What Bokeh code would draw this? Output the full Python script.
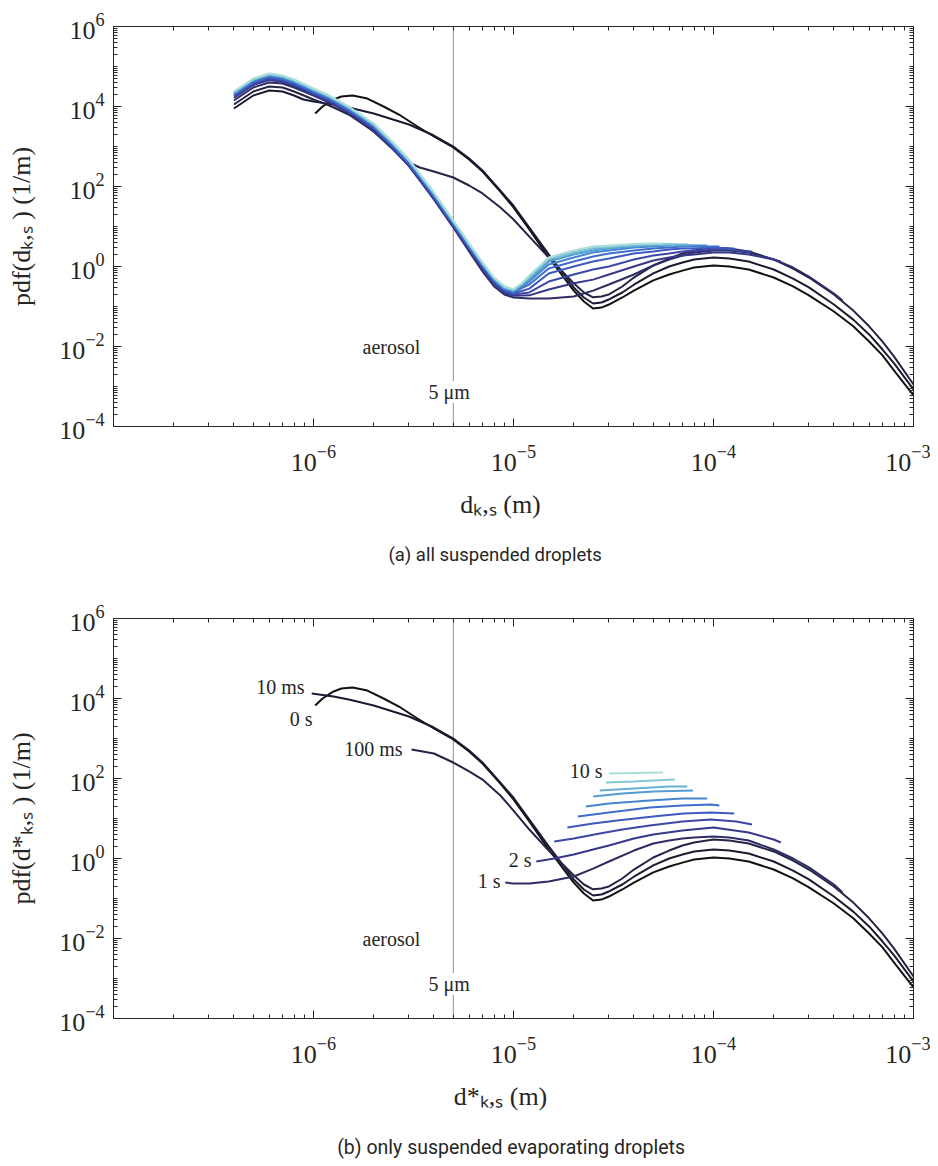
import math
from bokeh.plotting import figure
from bokeh.models import LogAxis, FixedTicker, Label, Span, Range1d, CustomJSTickFormatter, Title
from bokeh.layouts import column
from bokeh.embed import file_html
from bokeh.resources import INLINE

# ---------------- data ----------------
times = ["0 s", "10 ms", "100 ms", "1 s", "2 s", "3 s", "4 s", "5 s", "6 s", "7 s", "8 s", "9 s", "10 s"]
x_tick_values = [1e-6, 1e-5, 1e-4, 1e-3]
y_tick_values = [1e-4, 1e-2, 1e0, 1e2, 1e4, 1e6]
aerosol_limit_um = 5.0

# diameters in micrometres, pdf in 1/m
# ----- panel (a): all suspended droplets -----
a_d_0s = [1.02, 1.11, 1.26, 1.38, 1.57, 1.86, 2.24, 2.72, 3.31, 4, 5, 6, 7, 8.6, 10, 12, 15, 20, 22.5, 25, 27.5, 30, 35, 40, 50, 60, 70, 80, 100, 120, 150, 200, 250, 300, 400, 500, 600, 700, 800, 1000]
a_pdf_0s = [6.7e3, 1.0e4, 1.5e4, 1.78e4, 1.88e4, 1.58e4, 1.0e4, 5.96e3, 3.16e3, 1.78e3, 944, 473, 237, 75, 30, 8.4, 1.68, 0.25, 0.133, 0.089, 0.094, 0.112, 0.168, 0.25, 0.45, 0.63, 0.79, 0.94, 1.06, 1.0, 0.84, 0.53, 0.32, 0.19, 0.075, 0.032, 0.0133, 0.0060, 0.0025, 6.0e-4]

a_d_10ms = [0.4, 0.5, 0.6, 0.7, 0.8, 0.89, 1.0, 1.26, 1.5, 2, 3, 4, 5, 6, 7, 8.6, 10, 12, 15, 20, 22.5, 25, 27.5, 30, 35, 40, 50, 60, 70, 80, 100, 120, 150, 200, 250, 300, 400, 500, 600, 700, 800, 1000]
a_pdf_10ms = [8.9e3, 1.88e4, 2.51e4, 2.37e4, 1.88e4, 1.5e4, 1.33e4, 1.12e4, 9.4e3, 6.7e3, 3.55e3, 1.88e3, 1.0e3, 501, 251, 79, 33, 9.4, 2.0, 0.30, 0.168, 0.119, 0.126, 0.15, 0.224, 0.35, 0.67, 1.0, 1.26, 1.5, 1.68, 1.58, 1.33, 0.84, 0.50, 0.30, 0.112, 0.047, 0.020, 0.0084, 0.0038, 8.4e-4]

a_d_100ms = [0.4, 0.5, 0.6, 0.7, 0.8, 1.0, 1.2, 1.5, 2, 2.5, 3, 3.4, 4, 5, 6, 7, 8.6, 10, 12, 15, 20, 22.5, 25, 27.5, 30, 35, 40, 50, 60, 70, 80, 100, 120, 150, 200, 250, 300, 400, 500, 600, 700, 800, 1000]
a_pdf_100ms = [1.12e4, 2.37e4, 3.16e4, 2.99e4, 2.37e4, 1.5e4, 1.06e4, 6.3e3, 2.37e3, 891, 398, 299, 237, 168, 106, 67, 30, 15, 5.6, 1.68, 0.38, 0.224, 0.17, 0.178, 0.20, 0.316, 0.53, 1.06, 1.58, 2.11, 2.51, 2.99, 2.82, 2.37, 1.5, 0.89, 0.53, 0.20, 0.079, 0.032, 0.0133, 0.0056, 0.00112]

a_d_1s = [0.4, 0.5, 0.6, 0.7, 0.8, 1.0, 1.2, 1.5, 2, 2.5, 3, 4, 5, 6, 7, 8, 9, 10, 12, 15, 20, 25, 30, 40, 50, 60, 70, 80, 100, 120, 150, 200, 250, 300, 400, 442]
a_pdf_1s = [1.41e4, 2.99e4, 3.98e4, 3.76e4, 2.99e4, 1.88e4, 1.26e4, 7.08e3, 2.37e3, 841, 335, 47.3, 9.44, 2.37, 0.75, 0.316, 0.20, 0.168, 0.158, 0.158, 0.178, 0.25, 0.355, 0.63, 1.06, 1.5, 1.88, 2.24, 2.51, 2.51, 2.24, 1.5, 0.944, 0.56, 0.21, 0.141]

a_d_2s = [0.4, 0.5, 0.6, 0.7, 0.8, 1.0, 1.2, 1.5, 2, 2.5, 3, 4, 5, 6, 7, 8, 9, 10, 12, 15, 20, 25, 30, 40, 50, 60, 70, 80, 100, 120, 150, 200, 217]
a_pdf_2s = [1.63e4, 3.44e4, 4.6e4, 4.1e4, 3.25e4, 1.94e4, 1.29e4, 6.9e3, 2.59e3, 867, 325, 49, 9.7, 2.59, 0.87, 0.365, 0.22, 0.186, 0.19, 0.266, 0.38, 0.47, 0.63, 1.0, 1.41, 1.68, 1.88, 2.0, 2.24, 2.24, 2.0, 1.5, 1.33]

a_d_3s = [0.4, 0.5, 0.6, 0.7, 0.8, 1.0, 1.2, 1.5, 2, 2.5, 3, 4, 5, 6, 7, 8, 9, 10, 12, 15, 20, 25, 30, 40, 50, 60, 70, 80, 100, 120, 150, 156]
a_pdf_3s = [1.78e4, 3.75e4, 5.0e4, 4.47e4, 3.55e4, 2.12e4, 1.41e4, 7.5e3, 2.82e3, 945, 355, 53, 10.6, 2.82, 0.945, 0.40, 0.24, 0.20, 0.224, 0.42, 0.63, 0.84, 1.0, 1.5, 1.88, 2.11, 2.37, 2.51, 2.66, 2.66, 2.37, 2.37]

a_d_4s = [0.4, 0.5, 0.6, 0.7, 0.8, 1.0, 1.2, 1.5, 2, 2.5, 3, 4, 5, 6, 7, 8, 9, 10, 11, 12, 15, 20, 25, 30, 40, 50, 60, 70, 80, 100, 120, 127]
a_pdf_4s = [1.88e4, 3.97e4, 5.3e4, 4.73e4, 3.76e4, 2.24e4, 1.49e4, 7.9e3, 2.99e3, 1.0e3, 376, 56, 11.2, 2.99, 1.0, 0.42, 0.254, 0.214, 0.245, 0.28, 0.67, 1.0, 1.33, 1.58, 2.11, 2.37, 2.66, 2.82, 2.82, 2.99, 2.82, 2.82]

a_d_5s = [0.4, 0.5, 0.6, 0.7, 0.8, 1.0, 1.2, 1.5, 2, 2.5, 3, 4, 5, 6, 7, 8, 9, 10, 11, 12, 15, 20, 25, 30, 40, 50, 60, 70, 80, 100, 107]
a_pdf_5s = [2.0e4, 4.2e4, 5.6e4, 5.0e4, 4.0e4, 2.37e4, 1.58e4, 8.4e3, 3.16e3, 1.06e3, 398, 60, 11.9, 3.16, 1.06, 0.45, 0.27, 0.227, 0.29, 0.355, 0.89, 1.33, 1.78, 2.11, 2.51, 2.82, 2.99, 3.16, 3.16, 3.16, 3.16]

a_d_6s = [0.4, 0.5, 0.6, 0.7, 0.8, 1.0, 1.2, 1.5, 2, 2.5, 3, 4, 5, 6, 7, 8, 9, 10, 11, 12, 15, 20, 25, 30, 40, 50, 60, 70, 80, 93]
a_pdf_6s = [2.11e4, 4.46e4, 6.0e4, 5.3e4, 4.2e4, 2.51e4, 1.68e4, 8.9e3, 3.35e3, 1.12e3, 421, 63, 12.6, 3.35, 1.12, 0.47, 0.285, 0.24, 0.32, 0.42, 1.12, 1.68, 2.24, 2.51, 2.99, 3.16, 3.35, 3.35, 3.35, 3.35]

a_d_7s = [0.4, 0.5, 0.6, 0.7, 0.8, 1.0, 1.2, 1.5, 2, 2.5, 3, 4, 5, 6, 7, 8, 9, 10, 11, 12, 15, 20, 25, 30, 40, 50, 60, 70, 79]
a_pdf_7s = [2.17e4, 4.6e4, 6.1e4, 5.5e4, 4.34e4, 2.59e4, 1.72e4, 9.2e3, 3.45e3, 1.16e3, 434, 65, 12.9, 3.45, 1.16, 0.49, 0.29, 0.25, 0.34, 0.47, 1.33, 2.0, 2.51, 2.82, 3.16, 3.35, 3.35, 3.35, 3.35]

a_d_8s = [0.4, 0.5, 0.6, 0.7, 0.8, 1.0, 1.2, 1.5, 2, 2.5, 3, 4, 5, 6, 7, 8, 9, 10, 11, 12, 15, 20, 25, 30, 40, 50, 60, 70, 74]
a_pdf_8s = [2.24e4, 4.72e4, 6.3e4, 5.6e4, 4.47e4, 2.66e4, 1.77e4, 9.4e3, 3.55e3, 1.19e3, 447, 67, 13.3, 3.55, 1.19, 0.50, 0.30, 0.255, 0.36, 0.53, 1.5, 2.24, 2.82, 2.99, 3.35, 3.55, 3.55, 3.55, 3.55]

a_d_9s = [0.4, 0.5, 0.6, 0.7, 0.8, 1.0, 1.2, 1.5, 2, 2.5, 3, 4, 5, 6, 7, 8, 9, 10, 11, 12, 15, 20, 25, 30, 40, 50, 60, 64]
a_pdf_9s = [2.30e4, 4.86e4, 6.5e4, 5.8e4, 4.6e4, 2.74e4, 1.83e4, 9.7e3, 3.65e3, 1.22e3, 460, 69, 13.7, 3.65, 1.22, 0.515, 0.31, 0.262, 0.37, 0.56, 1.58, 2.37, 2.99, 3.16, 3.55, 3.65, 3.65, 3.55]

a_d_10s = [0.4, 0.5, 0.6, 0.7, 0.8, 1.0, 1.2, 1.5, 2, 2.5, 3, 4, 5, 6, 7, 8, 9, 10, 11, 12, 15, 20, 25, 30, 40, 50, 56]
a_pdf_10s = [2.37e4, 5.0e4, 6.7e4, 5.96e4, 4.73e4, 2.82e4, 1.88e4, 1.0e4, 3.76e3, 1.26e3, 473, 71, 14.1, 3.76, 1.26, 0.53, 0.32, 0.27, 0.38, 0.60, 1.68, 2.51, 3.16, 3.35, 3.65, 3.76, 3.76]

# ----- panel (b): only suspended evaporating droplets -----
b_d_0s = [1.02, 1.11, 1.26, 1.38, 1.57, 1.86, 2.24, 2.72, 3.31, 4, 5, 6, 7, 8.6, 10, 12, 15, 20, 22.5, 25, 27.5, 30, 35, 40, 50, 60, 70, 80, 100, 120, 150, 200, 250, 300, 400, 500, 600, 700, 800, 1000]
b_pdf_0s = [6.7e3, 1.0e4, 1.5e4, 1.78e4, 1.88e4, 1.58e4, 1.0e4, 5.96e3, 3.16e3, 1.78e3, 944, 473, 237, 75, 30, 8.4, 1.68, 0.25, 0.133, 0.089, 0.094, 0.112, 0.168, 0.25, 0.45, 0.63, 0.79, 0.94, 1.06, 1.0, 0.84, 0.53, 0.32, 0.19, 0.075, 0.032, 0.0133, 0.0060, 0.0025, 6.0e-4]

b_d_10ms = [0.98, 1.26, 1.5, 2, 3, 4, 5, 6, 7, 8.6, 10, 12, 15, 20, 22.5, 25, 27.5, 30, 35, 40, 50, 60, 70, 80, 100, 120, 150, 200, 250, 300, 400, 500, 600, 700, 800, 1000]
b_pdf_10ms = [1.33e4, 1.12e4, 9.4e3, 6.7e3, 3.55e3, 1.88e3, 1.0e3, 501, 251, 79, 33, 9.4, 2.0, 0.30, 0.168, 0.119, 0.126, 0.15, 0.224, 0.35, 0.67, 1.0, 1.26, 1.5, 1.68, 1.58, 1.33, 0.84, 0.50, 0.30, 0.112, 0.047, 0.020, 0.0084, 0.0038, 8.4e-4]

b_d_100ms = [3.09, 4, 5, 6, 7, 8.6, 10, 12, 15, 20, 22.5, 25, 27.5, 30, 35, 40, 50, 60, 70, 80, 100, 120, 150, 200, 250, 300, 400, 500, 600, 700, 800, 1000]
b_pdf_100ms = [531, 422, 251, 150, 94, 37.6, 15.8, 5.3, 1.58, 0.38, 0.224, 0.17, 0.178, 0.20, 0.316, 0.53, 1.06, 1.58, 2.11, 2.51, 2.99, 2.82, 2.37, 1.5, 0.89, 0.53, 0.20, 0.079, 0.032, 0.0133, 0.0056, 0.00112]

b_d_1s = [9.1, 10, 12, 15, 20, 25, 30, 40, 50, 60, 70, 80, 100, 120, 150, 200, 250, 300, 400, 442]
b_pdf_1s = [0.25, 0.237, 0.237, 0.266, 0.355, 0.56, 0.84, 1.58, 2.37, 2.82, 3.16, 3.35, 3.55, 3.35, 2.82, 1.68, 1.0, 0.60, 0.224, 0.141]

b_d_2s = [13, 16, 20, 25, 30, 40, 50, 70, 100, 150, 200, 217]
b_pdf_2s = [0.84, 1.0, 1.26, 1.68, 2.11, 3.16, 3.98, 5.01, 5.96, 4.47, 2.99, 2.51]

b_d_3s = [16, 20, 27, 35, 48, 70, 97, 130, 156]
b_pdf_3s = [2.66, 3.16, 4.22, 5.31, 6.68, 8.41, 9.44, 8.41, 7.08]

b_d_4s = [18.6, 25, 33, 50, 71, 97, 127]
b_pdf_4s = [5.96, 7.5, 8.91, 11.2, 13.3, 14.1, 13.3]

b_d_5s = [21, 30, 48, 70, 97, 107]
b_pdf_5s = [11.2, 14.1, 18.8, 21.1, 22.4, 21.1]

b_d_6s = [23, 30, 48, 70, 93]
b_pdf_6s = [20.0, 23.7, 28.2, 31.6, 31.6]

b_d_7s = [25, 35, 50, 79]
b_pdf_7s = [35.5, 42.2, 47.3, 50.1]

b_d_8s = [27, 40, 60, 74]
b_pdf_8s = [50.1, 56.2, 63.1, 63.1]

b_d_9s = [29, 40, 50, 64]
b_pdf_9s = [79.4, 84.1, 89.1, 94.4]

b_d_10s = [30, 40, 56]
b_pdf_10s = [133, 137, 141]

panel_a = [(a_d_0s, a_pdf_0s), (a_d_10ms, a_pdf_10ms), (a_d_100ms, a_pdf_100ms), (a_d_1s, a_pdf_1s),
           (a_d_2s, a_pdf_2s), (a_d_3s, a_pdf_3s), (a_d_4s, a_pdf_4s), (a_d_5s, a_pdf_5s),
           (a_d_6s, a_pdf_6s), (a_d_7s, a_pdf_7s), (a_d_8s, a_pdf_8s), (a_d_9s, a_pdf_9s), (a_d_10s, a_pdf_10s)]
panel_b = [(b_d_0s, b_pdf_0s), (b_d_10ms, b_pdf_10ms), (b_d_100ms, b_pdf_100ms), (b_d_1s, b_pdf_1s),
           (b_d_2s, b_pdf_2s), (b_d_3s, b_pdf_3s), (b_d_4s, b_pdf_4s), (b_d_5s, b_pdf_5s),
           (b_d_6s, b_pdf_6s), (b_d_7s, b_pdf_7s), (b_d_8s, b_pdf_8s), (b_d_9s, b_pdf_9s), (b_d_10s, b_pdf_10s)]

# ---------------- style ----------------
colors = ["#121212", "#1c1a30", "#262446", "#2d2c64", "#363989", "#3c47a6", "#3e59c0", "#3f6dcb",
          "#4585d0", "#529dd2", "#67b1d4", "#85c7d7", "#aaded9"]
SERIF = "Liberation Serif"
CAPTION_FONT = "Roboto"
AX = "#262626"
UM = 1e-6
NB = "\u00a0"

x_minor = [k * 10.0 ** e for e in range(-7, -3) for k in range(1, 10)]
y_minor = [k * 10.0 ** e for e in range(-4, 6) for k in range(1, 10)]

FRAME_L = 113        # page x of frame left
BL = 6.5             # empirical baseline correction (px) for in-plot labels


def px_x(X):
    return 10 ** ((X - FRAME_L) / 200.0 - 7)


def px_y(Y, top):
    return 10 ** (6 - (Y - top) / 40.0)


def style_axis(ax, labels=True, standoff=10):
    ax.axis_line_color = AX
    ax.axis_line_width = 1
    ax.major_tick_line_color = AX
    ax.minor_tick_line_color = AX
    ax.major_tick_in = 8
    ax.major_tick_out = 0
    ax.minor_tick_in = 4
    ax.minor_tick_out = 0
    ax.major_label_standoff = standoff
    ax.major_label_text_font = SERIF
    ax.major_label_text_color = AX
    ax.axis_label = None
    ax.axis_label_text_font = SERIF
    ax.axis_label_text_font_size = "26px"
    ax.axis_label_text_font_style = "normal"
    ax.axis_label_text_color = AX
    if labels:
        ax.major_label_text_font_size = "26px"
    else:
        ax.formatter = CustomJSTickFormatter(code="return ''")
        ax.major_label_text_font_size = "1px"
        ax.major_label_text_alpha = 0.0


def label(fig, x, y, text, size, font=SERIF, align="left", bg=None):
    lab = Label(x=x, y=y, text=text, text_font=font, text_font_size=f"{size}px",
                text_align=align, text_baseline="alphabetic", text_color=AX)
    if bg is not None:
        lab.background_fill_color = bg
    fig.add_layout(lab)


def make_panel(curves, top, mb_top, mb_bottom, xlabel, ylabel, caption, cap_size, time_labels):
    p = figure(x_axis_type="log", y_axis_type="log",
               x_range=Range1d(1e-7, 1e-3), y_range=Range1d(1e-4, 1e6),
               frame_width=800, frame_height=400,
               min_border_left=FRAME_L, min_border_right=17,
               min_border_top=mb_top, min_border_bottom=mb_bottom,
               output_backend="svg", toolbar_location=None)
    p.grid.visible = False
    p.outline_line_color = None
    p.background_fill_color = "white"
    p.border_fill_color = "white"

    xt = FixedTicker(ticks=x_tick_values, minor_ticks=x_minor)
    yt = FixedTicker(ticks=y_tick_values, minor_ticks=y_minor)
    p.xaxis[0].ticker = xt
    p.yaxis[0].ticker = yt
    style_axis(p.xaxis[0], True, 19)
    style_axis(p.yaxis[0], True, 9)
    p.xaxis[0].axis_label = xlabel
    p.xaxis[0].axis_label_standoff = 16
    p.yaxis[0].axis_label = ylabel
    p.yaxis[0].axis_label_standoff = 20
    top_ax = LogAxis(ticker=xt)
    right_ax = LogAxis(ticker=yt)
    style_axis(top_ax, False, 0)
    style_axis(right_ax, False, 0)
    p.add_layout(top_ax, "above")
    p.add_layout(right_ax, "right")

    p.add_layout(Title(text=caption, align="center", text_font=CAPTION_FONT,
                       text_font_size=f"{cap_size}px", text_font_style="normal",
                       text_color=AX, standoff=40), "below")

    p.add_layout(Span(location=aerosol_limit_um * UM, dimension="height",
                      line_color="#8e8e8e", line_width=1, level="underlay"))

    for (d, pdf), c in zip(curves, colors):
        p.line(x=[v * UM for v in d], y=pdf, line_color=c, line_width=2)

    label(p, px_x(362), px_y(top + 327 - BL, top), "aerosol", 20)
    label(p, px_x(428), px_y(top + 372 - BL, top), "5 \u03bcm", 20, bg="white")
    for (txt, X, Y) in time_labels:
        label(p, px_x(X), px_y(Y - BL, top), txt, 20, align="right")
    return p


p1 = make_panel(panel_a, 26, 26, 172,
                "d\u2096,\u209b (m)" + NB * 4,
                "pdf(d\u2096,\u209b ) (1/m)",
                "(a) all suspended droplets" + NB * 8, 18.5, [])

p2_labels = [("10 ms", 304, 693), ("0 s", 312, 725), ("100 ms", 402, 755),
             ("2 s", 531, 866), ("1 s", 500, 887), ("10 s", 602, 777)]
p2 = make_panel(panel_b, 618, 20, 148,
                "d*\u2096,\u209b (m)" + NB * 4,
                "pdf(d*\u2096,\u209b ) (1/m)",
                "(b) only  suspended evaporating droplets", 19.5, p2_labels)

layout = column(p1, p2)
open("out.html", "w").write(file_html(layout, INLINE))
